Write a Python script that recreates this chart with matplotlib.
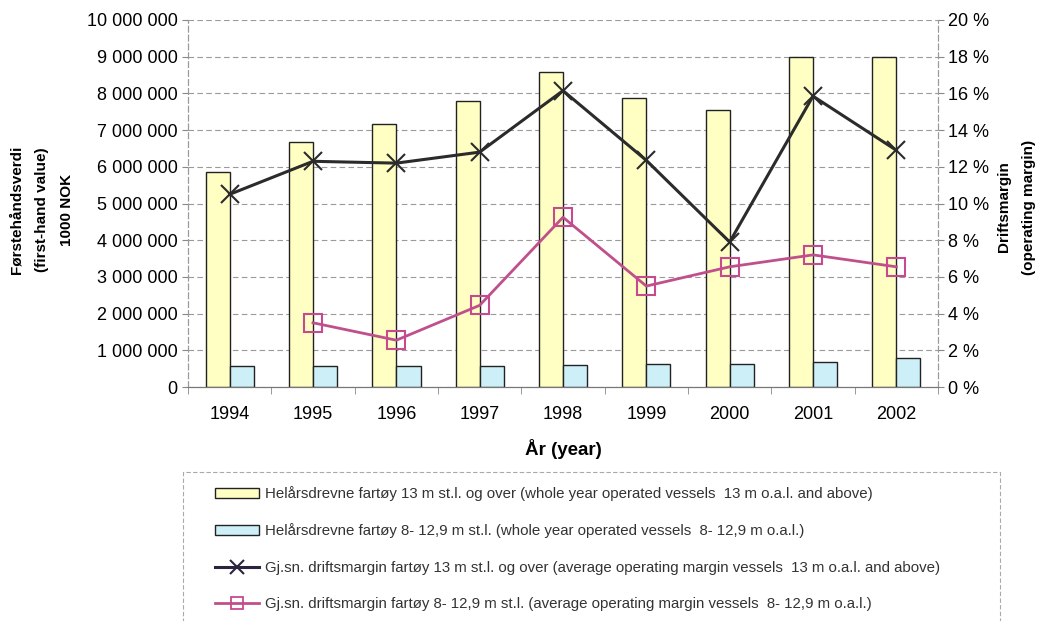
import matplotlib
matplotlib.use("Agg")
import matplotlib.pyplot as plt
import numpy as np
from matplotlib.lines import Line2D
from matplotlib.patches import Patch, Rectangle
from matplotlib.ticker import FuncFormatter, MultipleLocator

years = ["1994", "1995", "1996", "1997", "1998", "1999", "2000", "2001", "2002"]
value_13m = [5870000, 6670000, 7170000, 7780000, 8580000, 7870000, 7550000, 9000000, 9000000]
value_8_129m = [560000, 560000, 560000, 560000, 610000, 620000, 620000, 670000, 800000]
margin_13m = [10.5, 12.3, 12.2, 12.8, 16.15, 12.35, 7.9, 15.85, 12.9]
margin_8_129m = [np.nan, 3.5, 2.55, 4.45, 9.25, 5.5, 6.55, 7.2, 6.55]

labels = [
    "Helårsdrevne fartøy 13 m st.l. og over (whole year operated vessels  13 m o.a.l. and above)",
    "Helårsdrevne fartøy 8- 12,9 m st.l. (whole year operated vessels  8- 12,9 m o.a.l.)",
    "Gj.sn. driftsmargin fartøy 13 m st.l. og over (average operating margin vessels  13 m o.a.l. and above)",
    "Gj.sn. driftsmargin fartøy 8- 12,9 m st.l. (average operating margin vessels  8- 12,9 m o.a.l.)",
]

plt.rcParams['font.family'] = ['Liberation Sans', 'DejaVu Sans']

W, H = 1042, 621
fig = plt.figure(figsize=(W / 100, H / 100), dpi=100)
ax = fig.add_axes([188 / W, 1 - 387 / H, (938 - 188) / W, (387 - 20) / H])
ax2 = ax.twinx()

x = np.arange(len(years))
bw = 0.29
yellow = "#FFFFC4"
blue = "#CDEFF8"
ax.bar(x - bw, value_13m, width=bw, align='edge', color=yellow, edgecolor="#222222", linewidth=1.0, zorder=3)
ax.bar(x, value_8_129m, width=bw, align='edge', color=blue, edgecolor="#222222", linewidth=1.0, zorder=3)

ax.set_xlim(-0.5, len(years) - 0.5)
ax.set_ylim(0, 10000000)
ax.yaxis.set_major_locator(MultipleLocator(1000000))
ax.yaxis.set_major_formatter(FuncFormatter(lambda v, p: f"{int(v):,}".replace(",", " ")))
ax.grid(axis='y', color="#9a9a9a", linestyle=(0, (5, 3)), linewidth=0.8, zorder=0)
ax.set_axisbelow(True)

ax.set_xticks(x)
ax.set_xticklabels(years, fontsize=13)
ax.set_xticks(np.arange(-0.5, len(years)), minor=True)
ax.tick_params(axis='x', which='major', length=0, pad=14)
ax.tick_params(axis='x', which='minor', length=5, color="#888888", direction='out')
ax.tick_params(axis='y', labelsize=13, length=4, color="#888888")

ax2.plot(x, margin_13m, color="#2b2b2b", linewidth=2.2, marker='x', markersize=13,
         markeredgewidth=1.5, zorder=5)
ax2.plot(x, margin_8_129m, color="#C0508C", linewidth=2.0, marker='s', markersize=13,
         markerfacecolor='none', markeredgecolor="#C84A8E", markeredgewidth=1.5, zorder=5)
ax2.set_ylim(0, 20)
ax2.yaxis.set_major_locator(MultipleLocator(2))
ax2.yaxis.set_major_formatter(FuncFormatter(lambda v, p: f"{int(v)} %"))
ax2.tick_params(axis='y', labelsize=13, length=4, color="#888888")

for a in (ax, ax2):
    a.spines['top'].set_visible(False)
    for s in ('left', 'right'):
        a.spines[s].set_color("#9a9a9a")
        a.spines[s].set_linestyle((0, (5, 3)))
        a.spines[s].set_linewidth(0.8)
    a.spines['bottom'].set_color("#777777")

ax.set_xlabel("År (year)", fontsize=13.5, fontweight='bold', labelpad=11)
fig.text(42 / W, 1 - 210 / H, "Førstehåndsverdi\n(first-hand value)\n1000 NOK", rotation=90,
         ha='center', va='center', fontsize=11, fontweight='bold', multialignment='center',
         linespacing=2.0)
fig.text(1017 / W, 1 - 207 / H, "Driftsmargin\n(operating margin)", rotation=90,
         ha='center', va='center', fontsize=11, fontweight='bold', multialignment='center',
         linespacing=2.0)

# legend frame (runs past the bottom edge, as in the reference)
fig.patches.append(Rectangle((183 / W, -0.05), (1000 - 183) / W, 0.05 + (H - 472) / H,
                             transform=fig.transFigure, facecolor='white', edgecolor="#aaaaaa",
                             linestyle=(0, (4, 2)), linewidth=0.8, zorder=0))

handles = [
    Patch(facecolor=yellow, edgecolor="#222222"),
    Patch(facecolor=blue, edgecolor="#222222"),
    Line2D([], [], color="#2b2340", linewidth=2.2, marker='x', markersize=10, markeredgewidth=1.5),
    Line2D([], [], color="#C0508C", linewidth=2.0, marker='s', markersize=9,
           markerfacecolor='none', markeredgecolor="#C84A8E", markeredgewidth=1.3),
]
leg = fig.legend(handles, labels, loc='upper left',
                 bbox_to_anchor=(215 / W, 1 - 486 / H),
                 frameon=False, fontsize=10.8, labelspacing=1.5,
                 handlelength=2.9, handleheight=0.65, handletextpad=0.45, borderpad=0,
                 borderaxespad=0, labelcolor="#333333")

fig.savefig("out.png", dpi=100)
